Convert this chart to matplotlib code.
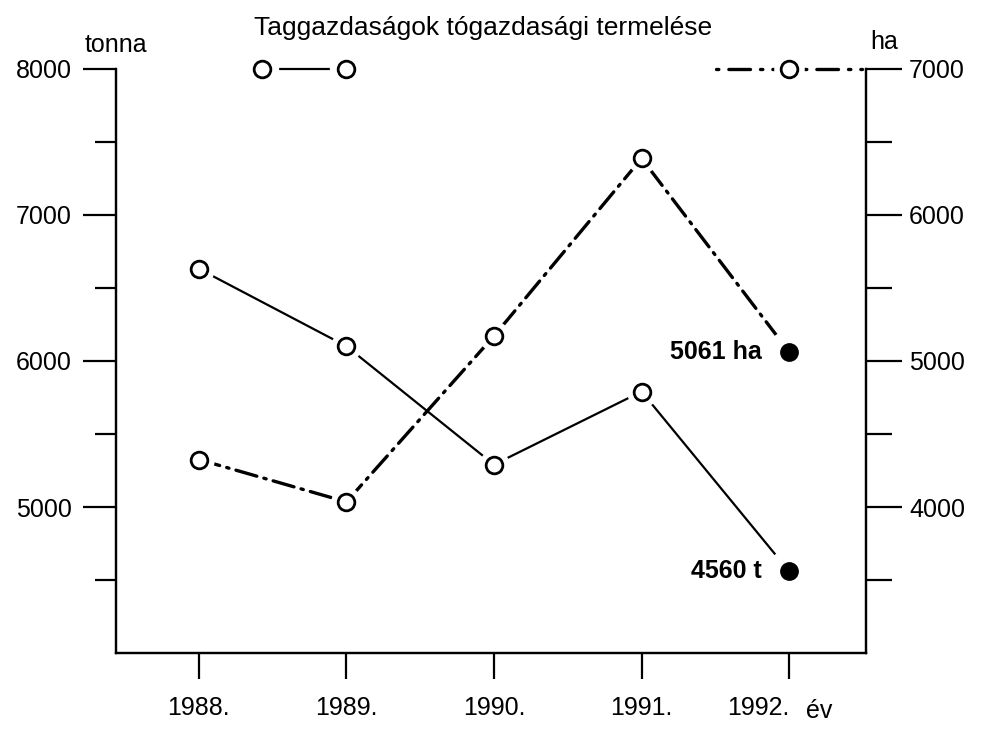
import matplotlib.pyplot as plt
from matplotlib.ticker import FixedLocator

plt.rcParams['font.family'] = ['Liberation Sans', 'DejaVu Sans']

# data
years = [1988, 1989, 1990, 1991]
tonna = [6630, 6100, 5290, 5790]      # left axis, solid line
ha = [4325, 4035, 5170, 6385]         # right axis, dash-dot line
year_last = 1992
tonna_last = 4560
ha_last = 5061
year_labels = ['1988.', '1989.', '1990.', '1991.', '1992.']

dashdot = (0, (6.5, 2.2, 0.7, 2.2))
lw_solid = 1.6
lw_dd = 2.4

fig = plt.figure(figsize=(9.93, 7.29), dpi=100)
ax = fig.add_axes([0.117, 0.104, 0.755, 0.802])
ax2 = ax.twinx()

ax.set_xlim(1987.44, 1992.52)
ax.set_ylim(4000, 8000)
ax2.set_ylim(3000, 7000)


def open_circles(a, x, y, halo=22):
    a.plot(x, y, ls='none', marker='o', ms=halo, mfc='white', mec='none', zorder=3, clip_on=False)
    a.plot(x, y, ls='none', marker='o', ms=12, mfc='white', mec='black', mew=2, zorder=4, clip_on=False)


def filled_dot(a, x, y):
    a.plot(x, y, ls='none', marker='o', ms=32, mfc='white', mec='none', zorder=3)
    a.plot(x, y, ls='none', marker='o', ms=12.5, color='black', zorder=4)


# solid line (tonna)
ax.plot(years + [year_last], tonna + [tonna_last], color='black', lw=lw_solid, zorder=2)
open_circles(ax, years, tonna)
filled_dot(ax, [year_last], [tonna_last])

# dash-dot line (ha)
ax2.plot(years + [year_last], ha + [ha_last], color='black', lw=lw_dd, ls=dashdot,
         dash_capstyle='round', zorder=2)
open_circles(ax2, years, ha)
filled_dot(ax2, [year_last], [ha_last])

ax.annotate(f'{tonna_last} t', (year_last, tonna_last), xytext=(-20, 0),
            textcoords='offset points', ha='right', va='center',
            fontsize=18, fontweight='bold')
ax2.annotate(f'{ha_last} ha', (year_last, ha_last), xytext=(-20, 0),
             textcoords='offset points', ha='right', va='center',
             fontsize=18, fontweight='bold')

# spines
for a in (ax, ax2):
    a.spines['top'].set_visible(False)
    for s in a.spines.values():
        s.set_linewidth(1.6)
ax.patch.set_visible(False)

# left axis ticks
ax.yaxis.set_major_locator(FixedLocator([5000, 6000, 7000, 8000]))
ax.yaxis.set_minor_locator(FixedLocator([4500, 5500, 6500, 7500]))
ax.tick_params(axis='y', which='major', direction='out', length=24, width=1.6,
               labelsize=18, pad=8)
ax.tick_params(axis='y', which='minor', direction='out', length=15, width=1.6)

# right axis ticks
ax2.yaxis.set_major_locator(FixedLocator([4000, 5000, 6000, 7000]))
ax2.yaxis.set_minor_locator(FixedLocator([3500, 4500, 5500, 6500]))
ax2.tick_params(axis='y', which='major', direction='out', length=26, width=1.6,
                labelsize=18, pad=5)
ax2.tick_params(axis='y', which='minor', direction='out', length=19, width=1.6)

# x ticks
ax.set_xticks(years + [year_last])
ax.set_xticklabels(year_labels)
ax.tick_params(axis='x', direction='out', length=19, width=1.6, labelsize=18, pad=12)
ax.get_xticklabels()[-1].set_horizontalalignment('right')

ax.annotate('év', (year_last, 0), xycoords=('data', 'axes fraction'),
            xytext=(12, -33), textcoords='offset points', ha='left', va='top',
            fontsize=18)

# axis unit labels
ax.text(0.0, 1.02, 'tonna', transform=ax.transAxes, ha='center', va='bottom',
        fontsize=18)
ax.text(1.025, 1.025, 'ha', transform=ax.transAxes, ha='center', va='bottom',
        fontsize=18)

# title
fig.text(0.486, 0.962, 'Taggazdaságok tógazdasági termelése', ha='center',
         va='center', fontsize=19)

# legend keys drawn above the plot
leg_y = [1.0, 1.0]
ax.plot([0.195, 0.306], leg_y, transform=ax.transAxes, clip_on=False,
        color='black', lw=lw_solid, zorder=2)
open_circles(ax, [0.195, 0.306], leg_y, halo=24)
for o in ax.lines[-2:]:
    o.set_transform(ax.transAxes)

ax.plot([0.80, 0.995], leg_y, transform=ax.transAxes, clip_on=False,
        color='black', lw=lw_dd, ls=(0, (0.7, 3, 6.5, 3)), dash_capstyle='round', zorder=2)
open_circles(ax, [0.898], [1.0], halo=22)
for o in ax.lines[-2:]:
    o.set_transform(ax.transAxes)

fig.savefig('out.png', dpi=100)
